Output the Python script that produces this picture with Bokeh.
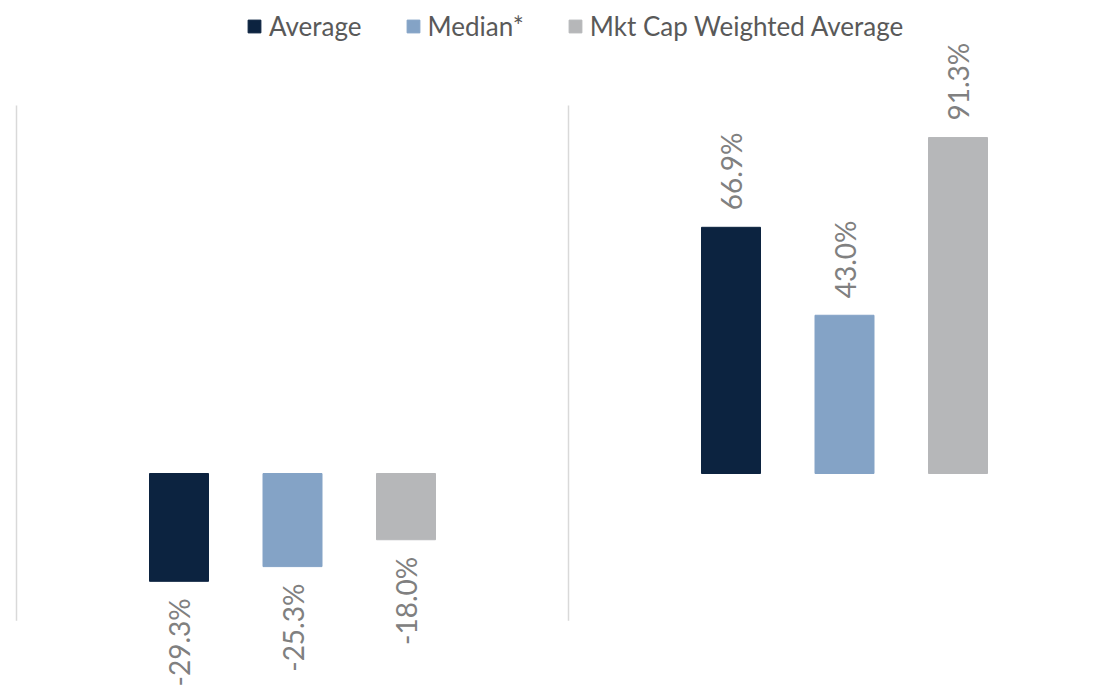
import math
from bokeh.plotting import figure
from bokeh.models import ColumnDataSource, Legend, LegendItem
from bokeh.core.properties import value
from bokeh.embed import file_html
from bokeh.resources import INLINE

# ---- data ----
categories = ["Period 1", "Period 2"]
series = ["Average", "Median*", "Mkt Cap Weighted Average"]
average = [-29.3, 66.9]
median = [-25.3, 43.0]
mkt_cap_weighted = [-18.0, 91.3]

colors = ["#0C2340", "#84A3C6", "#B6B7B9"]
FONT = "Lato"

W, H = 1108, 685
p = figure(width=W, height=H, output_backend="svg", toolbar_location=None,
           x_range=(-16 / 552, (W - 16) / 552), y_range=((473 - H) / 3.68, 473 / 3.68),
           x_axis_location=None, y_axis_location=None,
           min_border=0, outline_line_color=None, background_fill_color="white",
           border_fill_color="white")
p.grid.visible = False

# category separators (plot area spans -40..100)
n = len(categories)
p.segment(x0=list(range(n + 1)), x1=list(range(n + 1)),
          y0=[-40] * (n + 1), y1=[100] * (n + 1),
          line_color="#D9D9D9", line_width=1.5)

offsets = [-113.5 / 552, 0.0, 113.5 / 552]
bar_w = 59 / 552
all_vals = [average, median, mkt_cap_weighted]
renderers = []
for s, (name, vals, col, off) in enumerate(zip(series, all_vals, colors, offsets)):
    xs = [i + 0.5 + off for i in range(n)]
    src = ColumnDataSource(dict(
        x=xs, top=vals,
        label=[f"{v:.1f}%" for v in vals],
        align=["left" if v >= 0 else "right" for v in vals],
        yoff=[-17 if v >= 0 else 17 for v in vals],
    ))
    r = p.vbar(x="x", top="top", bottom=0, width=bar_w, source=src,
               fill_color=col, line_color=col)
    renderers.append(r)
    p.text(x="x", y="top", text="label", source=src, angle=math.pi / 2,
           text_align="align", text_baseline="middle", y_offset="yoff",
           text_color="#808080", text_font=value(FONT), text_font_size="28px")

legend = Legend(items=[LegendItem(label=nm, renderers=[r]) for nm, r in zip(series, renderers)],
                orientation="horizontal", location=(246, H - 27 - 15),
                glyph_width=16, glyph_height=16, label_standoff=7, spacing=43,
                label_height=30, label_text_font=FONT, label_text_font_size="26px",
                label_text_color="#595959", label_text_baseline="middle",
                padding=0, margin=0, border_line_alpha=0, background_fill_alpha=0)
p.add_layout(legend, "center")

open("out.html", "w").write(file_html(p, INLINE))
